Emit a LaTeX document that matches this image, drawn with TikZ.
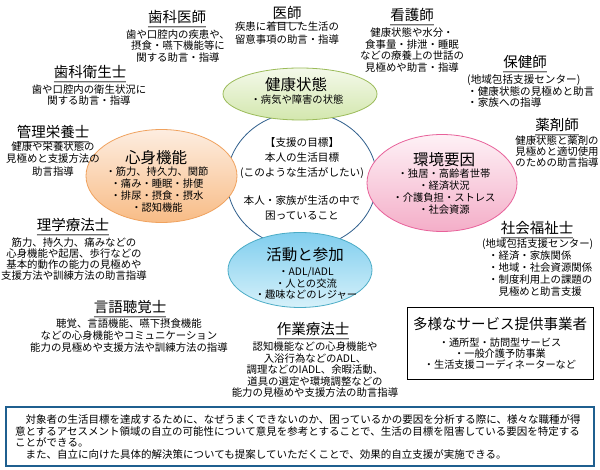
\documentclass[tikz,border=0pt]{standalone}
\usepackage{fontspec}
\setmainfont{Noto Sans CJK JP}
\usetikzlibrary{shapes.geometric}
\definecolor{gtop}{HTML}{F4F9EA}
\definecolor{gbot}{HTML}{D3E7AE}
\definecolor{gline}{HTML}{9BBB59}
\definecolor{otop}{HTML}{FDEDE0}
\definecolor{obot}{HTML}{F8BC86}
\definecolor{oline}{HTML}{F0A25E}
\definecolor{ptop}{HTML}{FEF1F6}
\definecolor{pbot}{HTML}{F4AEC8}
\definecolor{pline}{HTML}{E8619A}
\definecolor{btop}{HTML}{80CEEE}
\definecolor{bbot}{HTML}{D6F1FA}
\definecolor{bline}{HTML}{4BACC6}
\definecolor{cline}{HTML}{2F5E8C}
\definecolor{boxline}{HTML}{1F5F8F}
\begin{document}
\begin{tikzpicture}[x=1pt,y=-1pt,
  ttl/.style={font=\fontsize{14.5}{16}\selectfont, inner sep=0pt},
  body/.style={font=\fontsize{10.4}{11.8}\selectfont, align=center, inner sep=0pt},
  etitle/.style={font=\fontsize{15.5}{18}\selectfont, inner sep=0pt},
  eitem/.style={font=\fontsize{10.3}{12}\selectfont, align=center, inner sep=0pt},
  ell/.style={ellipse, inner sep=0pt, line width=0.8pt},
  uline/.style={line width=1.1pt, black!55},
  ushadow/.style={line width=0.7pt, black!22}]
\useasboundingbox (0,0) rectangle (600,470);
\fill[white] (0,0) rectangle (600,470);
\newcommand{\ulin}[1]{%
  \draw[uline] ([yshift=-4pt]#1.base west) -- ([yshift=-4pt]#1.base east);
  \draw[ushadow] ([yshift=-5.2pt]#1.base west) -- ([yshift=-5.2pt]#1.base east);}

% central goal circle
\node[ell, draw=cline, fill=white, minimum width=150pt, minimum height=136pt] (goal) at (302,180) {};
\node[eitem, font=\fontsize{10.6}{15}\selectfont] (goalA) at (302,158) {【支援の目標】\\本人の生活目標\\(このような生活がしたい)};
\node[eitem, font=\fontsize{10.6}{15}\selectfont] (goalB) at (302,207.5) {本人・家族が生活の中で\\困っていること};

% four ellipses
\node[ell, draw=gline, top color=gtop, bottom color=gbot, minimum width=154pt, minimum height=52pt] (health) at (300,94) {};
\node[etitle] (healthT) at (296,85) {健康状態};
\node[eitem] (healthI) at (297,99.5) {・病気や障害の状態};

\node[ell, draw=oline, top color=otop, bottom color=obot, minimum width=151pt, minimum height=93pt] (func) at (161.5,176) {};
\node[etitle] (funcT) at (156,158) {心身機能};
\node[eitem] (funcI) at (157,190) {・筋力、持久力、関節\\・痛み・睡眠・排便\\・排尿・摂食・摂水\\・認知機能};

\node[ell, draw=pline, top color=ptop, bottom color=pbot, minimum width=150pt, minimum height=97pt] (env) at (442,183) {};
\node[etitle] (envT) at (444,160) {環境要因};
\node[eitem] (envI) at (444,191.5) {・独居・高齢者世帯\\・経済状況\\・介護負担・ストレス\\・社会資源};

\node[ell, draw=bline, top color=btop, bottom color=bbot, minimum width=144pt, minimum height=75pt] (act) at (300,270) {};
\node[etitle] (actT) at (305,255) {活動と参加};
\node[eitem, font=\fontsize{10.3}{11.5}\selectfont] (actI) at (306,283.5) {・ADL/IADL\\・人との交流\\・趣味などのレジャー};

% professions
\node[ttl] (dent) at (177,17) {歯科医師}; \ulin{dent}
\node[body] (dentB) at (178,46) {歯や口腔内の疾患や、\\摂食・嚥下機能等に\\関する助言・指導};

\node[ttl] (doc) at (287,13) {医師}; \ulin{doc}
\node[body, font=\fontsize{10.4}{13}\selectfont] (docB) at (287,33.5) {疾患に着目した生活の\\留意事項の助言・指導};

\node[ttl] (nurse) at (412,15) {看護師}; \ulin{nurse}
\node[body] (nurseB) at (412,50) {健康状態や水分・\\食事量・排泄・睡眠\\などの療養上の世話の\\見極めや助言・指導};

\node[ttl] (phn) at (525,62) {保健師}; \ulin{phn}
\node[body, align=left, anchor=west, font=\fontsize{10.6}{11}\selectfont] (phnB) at (467,91) {(地域包括支援センター)\\・健康状態の見極めと助言\\・家族への指導};

\node[ttl] (pharm) at (557,125) {薬剤師}; \ulin{pharm}
\node[body, font=\fontsize{10.4}{11}\selectfont] (pharmB) at (557,152) {健康状態と薬剤の\\見極めと適切使用\\のための助言指導};

\node[ttl] (sw) at (537,228) {社会福祉士}; \ulin{sw}
\node[body, align=left, anchor=west, font=\fontsize{10.4}{12.2}\selectfont] (swB) at (482,267.5) {(地域包括支援センター)\\\hspace*{6pt}・経済・家族関係\\\hspace*{6pt}・地域・社会資源関係\\\hspace*{6pt}・制度利用上の課題の\\\hspace*{16.4pt}見極めと助言支援};

\node[draw, line width=0.9pt, minimum width=186pt, minimum height=72pt, inner sep=0pt] (svc) at (500,343) {};
\node[ttl] (svcT) at (500,323.5) {多様なサービス提供事業者};
\node[eitem, font=\fontsize{10.2}{11.2}\selectfont] (svcI) at (500,353.5) {・通所型・訪問型サービス\\・一般介護予防事業\\・生活支援コーディネーターなど};

\node[ttl] (dh) at (90,72) {歯科衛生士}; \ulin{dh}
\node[body, font=\fontsize{10.4}{11.2}\selectfont] (dhB) at (89,95) {歯や口腔内の衛生状況に\\関する助言・指導};

\node[ttl] (diet) at (53,132) {管理栄養士}; \ulin{diet}
\node[body, font=\fontsize{10.4}{12.5}\selectfont] (dietB) at (53,159) {健康や栄養状態の\\見極めと支援方法の\\助言指導};

\node[ttl] (pt) at (73,225) {理学療法士}; \ulin{pt}
\node[body, font=\fontsize{10.4}{11.3}\selectfont] (ptB) at (74,259) {筋力、持久力、痛みなどの\\心身機能や起居、歩行などの\\基本的動作の能力の見極めや\\支援方法や訓練方法の助言指導};

\node[ttl] (st) at (130,307) {言語聴覚士}; \ulin{st}
\node[body, font=\fontsize{10.4}{12}\selectfont] (stB) at (129,336) {聴覚、言語機能、嚥下摂食機能\\などの心身機能やコミュニケーション\\能力の見極めや支援方法や訓練方法の指導};

\node[ttl] (ot) at (313,329) {作業療法士}; \ulin{ot}
\node[body, font=\fontsize{10.4}{11.5}\selectfont] (otB) at (315,370) {認知機能などの心身機能や\\入浴行為などのADL、\\調理などのIADL、余暇活動、\\道具の選定や環境調整などの\\能力の見極めや支援方法の助言指導};

% bottom summary box
\node[draw=boxline, line width=1.2pt, minimum width=588pt, minimum height=59pt, inner sep=0pt] (sum) at (300,436.5) {};
\node[body, align=left, anchor=west, font=\fontsize{10.5}{11.9}\selectfont] (sumT) at (15,437) {　対象者の生活目標を達成するために、なぜうまくできないのか、困っているかの要因を分析する際に、様々な職種が得\\意とするアセスメント領域の自立の可能性について意見を参考とすることで、生活の目標を阻害している要因を特定する\\ことができる。\\　また、自立に向けた具体的解決策についても提案していただくことで、効果的自立支援が実施できる。};
\end{tikzpicture}
\end{document}
